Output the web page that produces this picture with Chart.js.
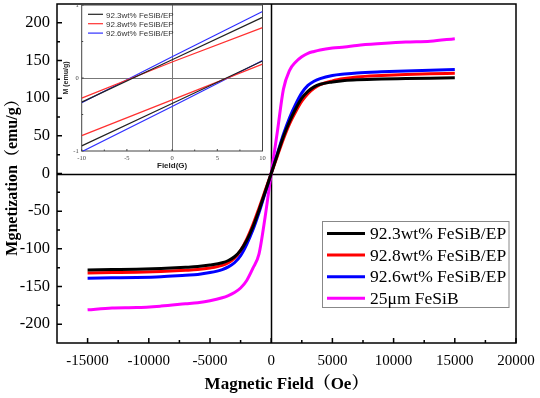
<!DOCTYPE html>
<html>
<head>
<meta charset="utf-8">
<script src="https://cdn.jsdelivr.net/npm/chart.js@4.4.0/dist/chart.umd.min.js"></script>
<style>
  html, body { margin: 0; padding: 0; background: #fff; }
  #wrap { position: relative; width: 540px; height: 398px; }
  #mainChart { position: absolute; left: 0; top: 0; }
  #insetChart { position: absolute; left: 57px; top: 0; }
</style>
</head>
<body>
<div id="wrap">
  <canvas id="mainChart" width="540" height="398"></canvas>
  <canvas id="insetChart" width="211" height="172"></canvas>
</div>
<script>
// main loop data (Oe -> emu/g)
var field = [-15000, -13000, -11000, -9000, -7000, -6000, -5000, -4000, -3500, -3000, -2500, -2000, -1500, -1000, -500, 0,
             500, 1000, 1500, 2000, 2500, 3000, 3500, 4000, 5000, 6000, 7000, 9000, 11000, 13000, 15000];
var ep923 = [-128, -127.5, -127, -126, -124.5, -123.5, -121.5, -118.5, -115.5, -110.5, -102, -89, -71, -49, -25, 0,
             25, 49, 69, 86, 100, 109, 115, 118.5, 121.5, 123.5, 124.5, 125.5, 126, 126.5, 127];
var ep928 = [-132, -131.5, -131, -130, -128.5, -127.5, -125.5, -122, -118.5, -112.5, -102, -87, -68, -46, -23, 0,
             23, 46, 66, 82, 96, 106, 113, 118, 123, 126, 128, 130, 131.5, 132.5, 133];
var ep926 = [-139, -138.5, -138, -137, -135, -134, -131.5, -127.5, -124, -118.5, -109, -94, -75, -52, -26, 0,
             26, 52, 74, 92, 107, 117, 122.5, 126, 130, 132, 133.5, 135, 136, 137, 138];
var ribbon = [-181, -178.5, -178, -176, -173, -171.5, -169, -165, -162, -158, -152, -142, -126, -107, -58, 0,
              55, 112, 137, 148, 155, 159.5, 162, 164, 166.5, 168, 170, 172.5, 174.5, 175.5, 179];
var labels = ['92.3wt% FeSiB/EP', '92.8wt% FeSiB/EP', '92.6wt% FeSiB/EP', '25\u03bcm FeSiB'];
var xTicks = [-15000, -10000, -5000, 0, 5000, 10000, 15000, 20000];
var yTicks = [-200, -150, -100, -50, 0, 50, 100, 150, 200];

// inset (low field) data
var insetField = [-10, 0, 10];
var up923 = [-0.33, 0.25, 0.83];
var down923 = [-0.93, -0.35, 0.234];
var up928 = [-0.275, 0.22, 0.69];
var down928 = [-0.79, -0.30, 0.19];
var up926 = [-0.34, 0.29, 0.91];
var down926 = [-1.01, -0.39, 0.24];
var insetXTicks = [-10, -5, 0, 5, 10];
var insetYTicks = [-1, 0, 1];

var serif = "'Liberation Serif', 'Times New Roman', 'Noto Serif CJK SC', 'Noto Sans CJK SC', serif";
var sans = "'Liberation Sans', Arial, sans-serif";

function pts(xs, ys) {
  return xs.map(function (x, i) { return { x: x, y: ys[i] }; });
}
function plain(v) { return String(v); }

// fixed size axes, no extra label overhang padding
function fixX(h) {
  return function (s) { s.height = h; s.paddingLeft = 0; s.paddingRight = 0; };
}
function fixY(w) {
  return function (s) { s.width = w; s.paddingTop = 0; s.paddingBottom = 0; };
}

// frame, crosshair and inward ticks
var frame = {
  id: 'frame',
  beforeDatasetsDraw: function (chart, args, opts) {
    var ctx = chart.ctx, a = chart.chartArea;
    var xs = chart.scales.x, ys = chart.scales.y;
    ctx.save();
    ctx.strokeStyle = opts.color;
    ctx.lineWidth = opts.width;
    ctx.beginPath();
    var x0 = Math.round(xs.getPixelForValue(0)) + 0.5;
    var y0 = Math.round(ys.getPixelForValue(0)) + 0.5;
    ctx.moveTo(x0, a.top); ctx.lineTo(x0, a.bottom);
    ctx.moveTo(a.left, y0); ctx.lineTo(a.right, y0);
    ctx.stroke();
    ctx.strokeStyle = opts.axisColor || opts.color;
    ctx.strokeRect(a.left, a.top, a.right - a.left, a.bottom - a.top);
    ctx.beginPath();
    var xt = opts.xTicks, yt = opts.yTicks;
    xt.forEach(function (v, i) {
      var p = xs.getPixelForValue(v);
      ctx.moveTo(p, a.bottom); ctx.lineTo(p, a.bottom - opts.major);
      if (i < xt.length - 1) {
        var m = xs.getPixelForValue((v + xt[i + 1]) / 2);
        ctx.moveTo(m, a.bottom); ctx.lineTo(m, a.bottom - opts.minor);
      }
    });
    yt.forEach(function (v, i) {
      var p = ys.getPixelForValue(v);
      ctx.moveTo(a.left, p); ctx.lineTo(a.left + opts.major, p);
      if (i < yt.length - 1) {
        var m = ys.getPixelForValue((v + yt[i + 1]) / 2);
        ctx.moveTo(a.left, m); ctx.lineTo(a.left + opts.minor, m);
      }
    });
    ctx.stroke();
    ctx.restore();
  }
};

// legend box drawn inside the plot
var boxLegend = {
  id: 'boxLegend',
  afterDraw: function (chart, args, opts) {
    var ctx = chart.ctx;
    var items = chart.data.datasets.filter(function (d) { return d.label; });
    ctx.save();
    if (opts.box) {
      ctx.strokeStyle = '#888';
      ctx.lineWidth = 1;
      ctx.strokeRect(opts.box[0], opts.box[1], opts.box[2], opts.box[3]);
    }
    ctx.font = opts.font;
    ctx.textBaseline = 'middle';
    items.forEach(function (d, i) {
      var y = opts.y + i * opts.step;
      ctx.strokeStyle = d.borderColor;
      ctx.lineWidth = opts.lineWidth;
      ctx.beginPath();
      ctx.moveTo(opts.x, y); ctx.lineTo(opts.x + opts.len, y);
      ctx.stroke();
      ctx.fillStyle = opts.textColor || '#000';
      ctx.fillText(d.label, opts.x + opts.len + opts.gap, y + 1);
    });
    ctx.restore();
  }
};

var colors = ['#000000', '#ff0000', '#0000ff', '#ff00ff'];
var series = [ep923, ep928, ep926, ribbon];

new Chart(document.getElementById('mainChart'), {
  type: 'line',
  data: {
    datasets: series.map(function (s, i) {
      return {
        label: labels[i],
        data: pts(field, s),
        borderColor: colors[i],
        borderWidth: 3,
        pointRadius: 0,
        cubicInterpolationMode: 'monotone',
        fill: false
      };
    })
  },
  options: {
    responsive: false,
    animation: false,
    devicePixelRatio: 1,
    layout: { padding: { top: 4, right: 24, left: 0, bottom: 0 } },
    plugins: {
      legend: { display: false },
      tooltip: { enabled: false },
      frame: { color: '#000', width: 1.5, major: 5, minor: 3, xTicks: xTicks, yTicks: yTicks },
      boxLegend: { box: [322.5, 221.5, 186.5, 86], x: 327, y: 233.5, step: 21.6, len: 38, gap: 5,
                   lineWidth: 3, font: '17.5px ' + serif }
    },
    scales: {
      x: {
        type: 'linear', min: -17500, max: 20000,
        afterBuildTicks: function (s) { s.ticks = xTicks.map(function (v) { return { value: v }; }); },
        afterFit: fixX(55),
        grid: { display: false, drawTicks: false },
        border: { display: false },
        ticks: { color: '#000', padding: 9, maxRotation: 0, callback: plain, font: { family: serif, size: 15 } },
        title: { display: true, text: 'Magnetic Field\uff08Oe\uff09', color: '#000', padding: 3,
                 font: { family: serif, size: 17, weight: 'bold' } }
      },
      y: {
        type: 'linear', min: -225, max: 225,
        afterBuildTicks: function (s) { s.ticks = yTicks.map(function (v) { return { value: v }; }); },
        afterFit: fixY(57),
        grid: { display: false, drawTicks: false },
        border: { display: false },
        ticks: { color: '#000', padding: 7, callback: plain, font: { family: serif, size: 16.5 } },
        title: { display: true, text: 'Mgnetization\uff08emu/g\uff09', color: '#000', padding: 3,
                 font: { family: serif, size: 16, weight: 'bold' } }
      }
    }
  },
  plugins: [frame, boxLegend]
});

// inset: zoom of the loop around zero field
var insetColors = ['#222222', '#ff3030', '#3030ff'];
var insetUp = [up923, up928, up926];
var insetDown = [down923, down928, down926];
var insetSets = [];
insetUp.forEach(function (s, i) {
  insetSets.push({ label: labels[i], data: pts(insetField, s), borderColor: insetColors[i],
                   borderWidth: 1.2, pointRadius: 0, tension: 0 });
});
insetDown.forEach(function (s, i) {
  insetSets.push({ label: '', data: pts(insetField, s), borderColor: insetColors[i],
                   borderWidth: 1.2, pointRadius: 0, tension: 0 });
});

new Chart(document.getElementById('insetChart'), {
  type: 'line',
  data: { datasets: insetSets },
  options: {
    responsive: false,
    animation: false,
    devicePixelRatio: 1,
    layout: { padding: { top: 5, right: 5.5, left: 0, bottom: 0 } },
    plugins: {
      legend: { display: false },
      tooltip: { enabled: false },
      frame: { color: '#777', axisColor: '#444', width: 1, major: 2, minor: 1.5,
               xTicks: insetXTicks, yTicks: insetYTicks },
      boxLegend: { x: 31, y: 14.3, step: 9.4, len: 15, gap: 3, lineWidth: 1.2,
                   font: '8px ' + sans, textColor: '#333' }
    },
    scales: {
      x: {
        type: 'linear', min: -10, max: 10,
        afterBuildTicks: function (s) { s.ticks = insetXTicks.map(function (v) { return { value: v }; }); },
        afterFit: fixX(21),
        grid: { display: false, drawTicks: false },
        border: { display: false },
        ticks: { color: '#444', padding: 3, maxRotation: 0, font: { family: serif, size: 6.5 } },
        title: { display: true, text: 'Field(G)', color: '#222', padding: 1,
                 font: { family: sans, size: 8, weight: 'bold' } }
      },
      y: {
        type: 'linear', min: -1, max: 1,
        afterBuildTicks: function (s) { s.ticks = insetYTicks.map(function (v) { return { value: v }; }); },
        afterFit: fixY(24.7),
        grid: { display: false, drawTicks: false },
        border: { display: false },
        ticks: { color: '#444', padding: 3, font: { family: serif, size: 6.5 } },
        title: { display: true, text: 'M (emu/g)', color: '#222', padding: 5,
                 font: { family: sans, size: 7, weight: 'bold' } }
      }
    }
  },
  plugins: [frame, boxLegend]
});
</script>
</body>
</html>
